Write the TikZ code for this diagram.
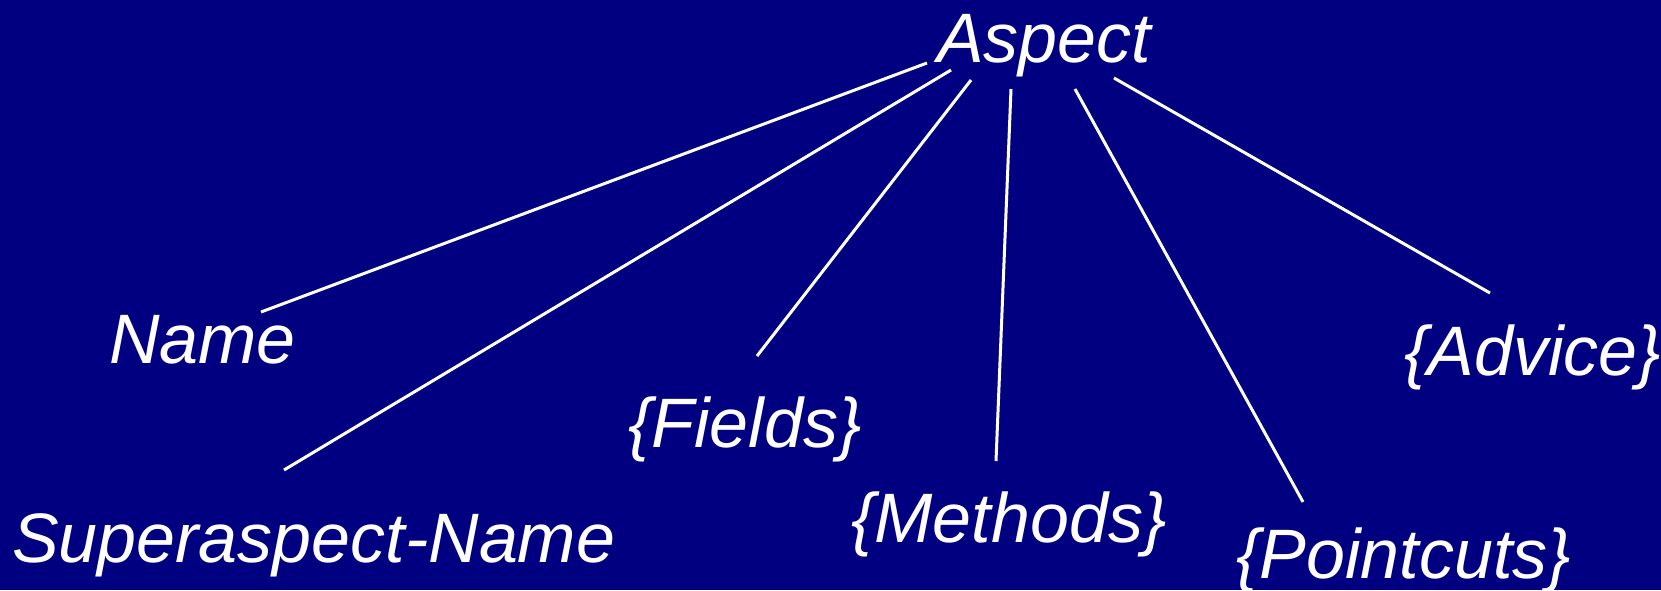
\documentclass[tikz,border=0pt]{standalone}
\usepackage{fontspec}
\setmainfont{Liberation Sans}
\begin{document}
\begin{tikzpicture}[x=1pt,y=-1pt,
  lbl/.style={anchor=base west,inner sep=0pt,text=white,
    font=\fontsize{70}{80}\selectfont\itshape},
  branch/.style={draw=white,line width=3pt}]
  \fill[fill={rgb,255:red,0;green,0;blue,128}] (0,0) rectangle (1661,590);
  \useasboundingbox (0,0) rectangle (1661,590);

  % labels
  \node[lbl] (aspect)    at (937,62)  {Aspect};
  \node[lbl] (name)      at (109,363) {Name};
  \node[lbl] (super)     at (12,562)  {Superaspect-Name};
  \node[lbl] (fields)    at (628,447) {\{Fields\}};
  \node[lbl] (methods)   at (851,542) {\{Methods\}};
  \node[lbl] (pointcuts) at (1236,578){\{Pointcuts\}};
  \node[lbl] (advice)    at (1404,375){\{Advice\}};

  % branch ends near the root
  \coordinate (r1) at (927,63);
  \coordinate (r2) at (951,70);
  \coordinate (r3) at (971,80);
  \coordinate (r4) at (1011,89);
  \coordinate (r5) at (1075,89);
  \coordinate (r6) at (1114,78);
  % branch ends near the leaves
  \coordinate (l1) at (261,312);
  \coordinate (l2) at (284,470);
  \coordinate (l3) at (757,356);
  \coordinate (l4) at (996,461);
  \coordinate (l5) at (1303,502);
  \coordinate (l6) at (1490,293);

  \draw[branch] (r1) -- (l1);
  \draw[branch] (r2) -- (l2);
  \draw[branch] (r3) -- (l3);
  \draw[branch] (r4) -- (l4);
  \draw[branch] (r5) -- (l5);
  \draw[branch] (r6) -- (l6);
\end{tikzpicture}
\end{document}
